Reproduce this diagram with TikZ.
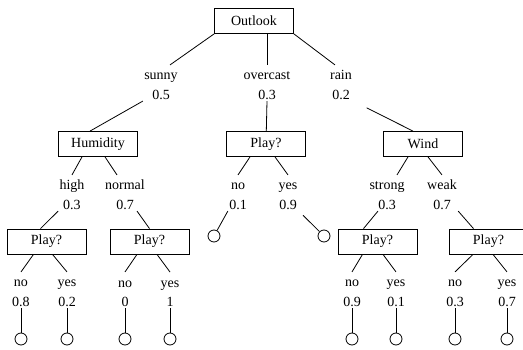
\documentclass[tikz,border=0pt]{standalone}
\usepackage{fontspec}
\setmainfont{Liberation Serif}
\tikzset{
  attr/.style={draw, minimum width=79pt, minimum height=25pt, inner sep=2pt},
  branch/.style={align=center, inner sep=1pt},
  leaf/.style={draw, circle, minimum size=12pt, inner sep=0pt}
}
\begin{document}
\begin{tikzpicture}[x=1pt,y=-1pt,line width=0.8pt,font=\fontsize{14}{19.5}\selectfont]
	\useasboundingbox (0,0) rectangle (523,350);
	% attribute boxes
	\node[attr] (outlook) at (254,21) {Outlook};
	\node[attr] (humidity) at (98,144) {Humidity};
	\node[attr] (play1) at (266,144) {Play?};
	\node[attr] (wind) at (423,144) {Wind};
	\node[attr] (p1) at (46.5,241.5) {Play?};
	\node[attr] (p2) at (149.5,241.5) {Play?};
	\node[attr] (p3) at (377.5,241.5) {Play?};
	\node[attr] (p4) at (488.5,241.5) {Play?};
	% branch labels
	\node[branch] (sunny) at (161,83) {\strut sunny\\0.5};
	\node[branch] (overcast) at (267,83) {\strut overcast\\0.3};
	\node[branch] (rain) at (341,83) {\strut rain\\0.2};
	\node[branch] (high) at (72,193) {\strut high\\0.3};
	\node[branch] (normal) at (125,193) {\strut normal\\0.7};
	\node[branch] (no1) at (238,193) {\strut no\\0.1};
	\node[branch] (yes1) at (288,193) {\strut yes\\0.9};
	\node[branch] (strong) at (387,193) {\strut strong\\0.3};
	\node[branch] (weak) at (442,193) {\strut weak\\0.7};
	\node[branch] (n1) at (21,290) {\strut no\\0.8};
	\node[branch] (y1) at (67,290) {\strut yes\\0.2};
	\node[branch] (n2) at (125,290) {\strut no\\0};
	\node[branch] (y2) at (170,290) {\strut yes\\1};
	\node[branch] (n3) at (352,290) {\strut no\\0.9};
	\node[branch] (y3) at (396,290) {\strut yes\\0.1};
	\node[branch] (n4) at (455,290) {\strut no\\0.3};
	\node[branch] (y4) at (507,290) {\strut yes\\0.7};
	% leaves
	\node[leaf] (la) at (214,236) {};
	\node[leaf] (lb) at (324,236) {};
	\node[leaf] (l1) at (21,339) {};
	\node[leaf] (l2) at (67,339) {};
	\node[leaf] (l3) at (125,339) {};
	\node[leaf] (l4) at (170,339) {};
	\node[leaf] (l5) at (352,339) {};
	\node[leaf] (l6) at (396,339) {};
	\node[leaf] (l7) at (455,339) {};
	\node[leaf] (l8) at (507,339) {};
	% top level
	\draw (outlook.south west) -- ([xshift=9pt]sunny.north);
	\draw ([xshift=13pt]outlook.south) -- (overcast.north);
	\draw (outlook.south east) -- ([xshift=-6pt]rain.north);
	\draw (sunny.south west) -- ([xshift=-8pt]humidity.north);
	\draw (overcast.south) -- (play1);
	\draw[shorten <=15pt] (rain.south east) -- ([xshift=-10pt]wind.north);
	% middle level
	\draw ([xshift=-16pt]humidity.south) -- (high.north);
	\draw ([xshift=7pt]humidity.south) -- ([xshift=-8pt]normal.north);
	\draw ([xshift=-16pt]play1.south) -- (no1.north);
	\draw ([xshift=9pt]play1.south) -- (yes1.north);
	\draw ([xshift=-15pt]wind.south) -- ([xshift=10pt]strong.north);
	\draw ([xshift=5pt]wind.south) -- (weak.north);
	\draw (high.south west) -- ([xshift=-6pt]p1.north);
	\draw ([xshift=12pt]normal.south) -- (p2.north);
	\draw (no1.south west) -- (la);
	\draw[shorten <=6pt] (yes1.south east) -- (lb);
	\draw ([xshift=-9pt]strong.south) -- ([xshift=-14pt]p3.north);
	\draw (weak.south east) -- ([xshift=-15pt]p4.north);
	% bottom level
	\draw ([xshift=-13pt]p1.south) -- (n1.north);
	\draw ([xshift=6pt]p1.south) -- (y1.north);
	\draw ([xshift=-12.5pt]p2.south) -- (n2.north);
	\draw ([xshift=7.5pt]p2.south) -- (y2.north);
	\draw ([xshift=-15pt]p3.south) -- (n3.north);
	\draw ([xshift=5.5pt]p3.south) -- (y3.north);
	\draw ([xshift=-15.5pt]p4.south) -- (n4.north);
	\draw ([xshift=4.5pt]p4.south) -- (y4.north);
	\foreach \b/\l in {n1/l1,y1/l2,n2/l3,y2/l4,n3/l5,y3/l6,n4/l7,y4/l8}
		\draw (\b.south) -- (\l);
\end{tikzpicture}
\end{document}
